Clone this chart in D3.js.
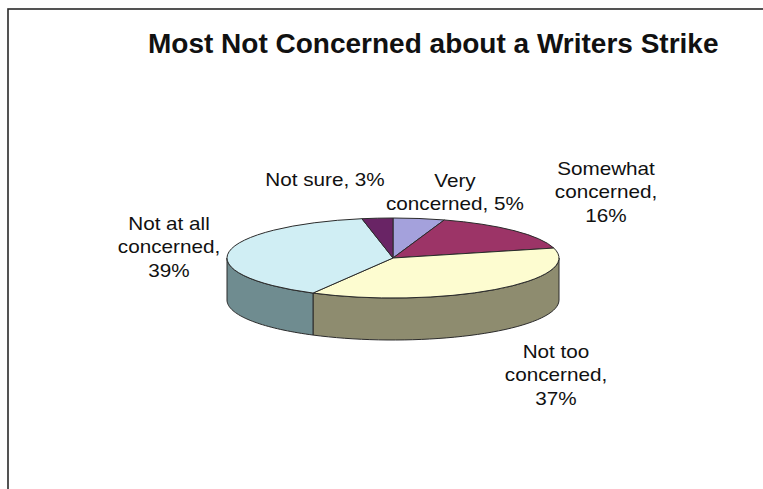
<!DOCTYPE html>
<html>
<head>
<meta charset="utf-8">
<script src="https://cdn.jsdelivr.net/npm/d3@7/dist/d3.min.js"></script>
<style>
  html, body { margin: 0; padding: 0; background: #fff; }
  svg { display: block; }
  text { font-family: "Liberation Sans", Arial, sans-serif; fill: #111; }
</style>
</head>
<body>
<svg id="chart" width="763" height="489"></svg>
<script>
// Survey responses, clockwise from 12 o'clock
const categories = ["Very concerned", "Somewhat concerned", "Not too concerned", "Not at all concerned", "Not sure"];
const values = [5, 16, 37, 39, 3];
const labelLines = [
  ["Very", "concerned, 5%"],
  ["Somewhat", "concerned,", "16%"],
  ["Not too", "concerned,", "37%"],
  ["Not at all", "concerned,", "39%"],
  ["Not sure, 3%"]
];
const topColors = ["#a4a1dc", "#9c3467", "#fdfcd0", "#d0eef4", "#692465"];
const sideColors = ["#5e5c80", "#5a1e3c", "#8e8c6f", "#6f8c90", "#3c1439"];
const title = "Most Not Concerned about a Writers Strike";

const svg = d3.select("#chart");
const W = 763, H = 489;

// frame
svg.append("rect")
  .attr("x", 8).attr("y", 9)
  .attr("width", W + 20).attr("height", H + 20)
  .attr("fill", "none").attr("stroke", "#2a2a2a").attr("stroke-width", 1.6);

svg.append("text")
  .attr("x", 148).attr("y", 53)
  .attr("font-size", 28).attr("font-weight", "bold")
  .text(title);

// pie geometry
const cx = 393, cy = 258, rx = 166, ry = 40, depth = 42;
const pie = d3.pie().sort(null).value(d => d.value);
const data = categories.map((c, i) => ({ name: c, value: values[i], i }));
const arcs = pie(data);

const px = a => cx + rx * Math.sin(a);
const py = a => cy - ry * Math.cos(a);
const line = d3.line();

const g = svg.append("g");

// outer walls: only the front half (angles between pi/2 and 3pi/2) is visible
arcs.forEach(d => {
  const a0 = Math.max(d.startAngle, Math.PI / 2);
  const a1 = Math.min(d.endAngle, 3 * Math.PI / 2);
  if (a1 <= a0) return;
  const n = 40;
  const angs = d3.range(n + 1).map(k => a0 + (a1 - a0) * k / n);
  const pts = angs.map(a => [px(a), py(a)])
    .concat(angs.slice().reverse().map(a => [px(a), py(a) + depth]));
  g.append("path")
    .attr("d", line(pts) + "Z")
    .attr("fill", sideColors[d.data.i])
    .attr("stroke", "#2b2b2b").attr("stroke-width", 1)
    .attr("stroke-linejoin", "round");
});

// top faces: circular arcs squashed into an ellipse
const arc = d3.arc().innerRadius(0).outerRadius(rx);
const topG = g.append("g")
  .attr("transform", `translate(${cx},${cy}) scale(1,${ry / rx})`);
topG.selectAll("path")
  .data(arcs)
  .join("path")
  .attr("d", arc)
  .attr("fill", d => topColors[d.data.i])
  .attr("stroke", "#2b2b2b").attr("stroke-width", 1)
  .attr("vector-effect", "non-scaling-stroke")
  .attr("stroke-linejoin", "round");

// slice labels
const labelPos = [
  [455, 187], [606, 175], [556, 358], [169, 230], [325, 186]
];
const lh = 23.5;
labelLines.forEach((lines, i) => {
  const t = svg.append("text")
    .attr("transform", `translate(${labelPos[i][0]},${labelPos[i][1]}) scale(1.15,1)`)
    .attr("text-anchor", "middle")
    .attr("font-size", 18);
  lines.forEach((s, k) => {
    t.append("tspan").attr("x", 0).attr("y", k * lh).text(s);
  });
});
</script>
</body>
</html>
